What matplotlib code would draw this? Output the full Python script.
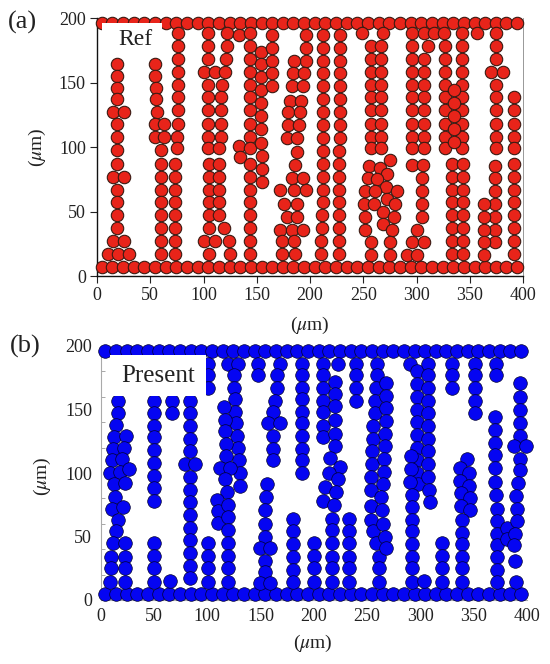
import matplotlib
matplotlib.use("Agg")
import matplotlib.pyplot as plt
from matplotlib.patches import Rectangle
import numpy as np

# ---------------- data (units: micrometres) ----------------
# wall rows (same x positions for both panels)
row_x = [4.5, 14.5, 24.5, 34.5, 44.5, 54.5, 64.5, 74.5, 84.5, 94.5,
         104.5, 114.5, 124.5, 134.5, 144.5, 154.5, 164.5, 174.5, 184.5, 194.5,
         204.5, 214.5, 224.5, 234.5, 244.5, 254.5, 264.5, 274.5, 284.5, 294.5,
         304.5, 314.5, 324.5, 334.5, 344.5, 354.5, 364.5, 374.5, 384.5, 394.5]
a_row_y = [7, 196]
b_row_y = [5, 196]

# ---- panel (a) "Ref" chains ----
a_chain_A = [(19,164),(19,155),(19,146),(19,137),(15,127),(25,127),(19,118),(19,108),(19,98),
             (19,87),(15,77),(25,77),(19,67),(19,57),(19,47),(19,37),(15,27),(25,27),(10,17),(20,17),(30,17)]
a_chain_B = [(54,164),(54,155),(55,146),(55,137),(56,127),(54,118),(63,118),(54,108),(63,108),(60,98),
             (60,87),(60,77),(60,67),(60,57),(60,47),(60,37),(60,27),(60,17)]
a_chain_C = [(76,188),(76,178),(76,168),(76,158),(76,148),(76,139),(76,129),(76,118),(75,108),(75,99),
             (73,87),(73,77),(73,67),(73,57),(73,47),(73,37),(73,27),(73,17)]
a_chain_D = [(104,188),(104,178),(104,168),(100,158),(111,158),(104,148),(104,139),(104,129),(104,118),
             (104,108),(104,99),(105,87),(105,77),(105,67),(105,57),(105,47),(105,37),(100,27),(111,27),(105,17)]
a_chain_E = [(122,188),(122,178),(121,168),(120,158),(117,148),(116,139),(116,129),(116,118),(116,108),
             (115,99),(115,87),(115,77),(115,67),(115,57),(115,47),(119,37),(124,27),(125,17)]
a_chain_F = [(133,187),(133,101),(134,92)]
a_chain_G = [(144,188),(144,178),(144,168),(144,158),(144,148),(144,139),(144,129),(144,118),(144,108),
             (144,99),(144,87),(144,77),(144,67),(144,57),(144,47),(144,37),(144,27),(144,17)]
a_chain_H = [(154,174),(154,164),(154,154),(154,144),(154,134),(154,124),(154,114),(154,103),(155,93),
             (155,83),(155,73)]
a_chain_I = [(164,187),(164,177),(164,167),(164,157),(164,147)]
a_chain_J = [(196,187),(196,177),(196,167),(185,167),(184,157),(194,157),(183,147),(193,147),(181,136),
             (192,136),(179,127),(191,127),(179,117),(190,117),(178,107),(188,107),(188,96),(186,86),
             (183,76),(193,76),(172,67),(185,67),(196,67),(176,56),(188,56),(178,46),(188,46),(172,36),
             (183,36),(193,36),(174,27),(185,27),(174,17),(186,17)]
a_chain_K = [(212,187),(212,177),(212,167),(212,157),(212,147),(212,137),(212,127),(212,117),(212,107),
             (212,97),(212,87),(212,77),(212,67),(212,57),(211,47),(211,37),(210,27),(210,17)]
a_chain_L = [(228,187),(228,177),(228,167),(228,157),(228,147),(228,137),(228,127),(228,117),(228,107),
             (227,97),(227,87),(227,77),(227,67),(227,57),(227,47),(227,37),(227,27),(227,17)]
a_chain_M = [(249,188),(269,188),
             (257,178),(257,168),(257,158),(257,148),(257,139),(257,129),(257,118),(257,108),(257,99),
             (267,178),(267,168),(267,158),(267,148),(267,139),(267,129),(267,118),(267,108),(267,99),
             (275,90),(255,85),(266,84),(272,79),(254,76),(263,75),(271,69),(252,66),(261,66),(272,60),
             (282,66),(251,56),(260,56),(269,50),(280,56),(252,46),(269,40),(279,46),(252,36),(277,36),
             (257,26),(275,26),(257,16),(275,16)]
a_chain_N = [(296,188),(296,178),(296,168),(296,158),(296,148),(296,139),(296,129),(296,118),(296,108),(296,99),
             (307,188),(311,178),(307,168),(307,158),(307,148),(307,139),(307,129),(307,118),(307,108),(307,99),
             (316,188),(296,86),(306,86),(305,76),(305,66),(305,56),(305,46),(300,36),(296,26),(307,26),
             (291,16),(300,16)]
a_chain_O = [(326,188),(327,178),(327,168),(327,158),(327,148),(327,139),(327,129),(327,118),(327,108),(327,99),
             (343,188),(343,178),(343,168),(343,158),(343,148),(343,139),(343,129),(343,118),(343,108),(343,99),
             (335,144),(335,134),(335,124),(335,114),(335,104),
             (333,87),(333,77),(333,67),(333,57),(333,47),(333,37),(333,27),(333,17),
             (344,87),(344,77),(344,67),(344,57),(344,47),(344,37),(344,27),(344,17)]
a_chain_P = [(357,188),(375,188),(375,178),(375,168),(370,158),(381,158),(375,148),(375,139),(375,129),
             (375,118),(375,108),(375,99),(374,85),(374,76),(374,66),(374,56),(374,46),(374,36),(374,26),
             (363,56),(363,46),(363,36),(363,26),(363,16)]
a_chain_Q = [(392,139),(392,129),(392,118),(392,108),(392,99),(392,87),(392,77),(392,67),(392,57),
             (392,47),(392,37),(392,27),(392,17)]

# ---- panel (b) "Present" chains ----
b_chain_1 = [(16,157),(16,147),(15,138),(13,128),(24,129),(12,119),(22,120),(11,110),(20,111),(9,100),
             (18,101),(27,103),(13,91),(23,92),(14,81),(11,72),(21,73),(16,63),(15,54),(12,45),(23,45),
             (10,34),(23,34),(10,25),(23,25),(9,14),(23,14)]
b_chain_2 = [(50,157),(50,147),(50,137),(50,128),(50,118),(50,108),(50,98),(50,88),(50,78),
             (50,45),(50,35),(50,25),(50,14)]
b_chain_3 = [(67,157),(67,147),(65,15)]
b_chain_4 = [(84,157),(84,147),(84,137),(84,127),(84,117),(79,107),(89,107),(84,97),(84,87),(84,77),
             (84,67),(84,57),(84,47),(84,37),(84,27),(84,17)]
b_chain_5 = [(101,186),(101,177),(101,167),(101,45),(101,35),(101,25),(101,14)]
b_chain_6 = [(120,186),(129,186),(125,177),(125,167),(126,158),(126,148),(127,139),(128,129),(129,120),
             (130,110),(131,100),(131,90),
             (116,152),(117,142),(117,133),(118,123),(118,113),(112,104),(121,104),(117,95),(119,85),
             (109,79),(110,70),(110,61),(120,75),(120,65),(120,55),(120,45),(120,35),(120,25),(120,14)]
b_chain_7 = [(148,186),(148,177),(168,186),(166,177),(166,167),(164,157),(162,148),(157,139),(168,139),
             (162,129),(162,119),(162,110)]
b_chain_8 = [(156,91),(155,81),(154,71),(154,60),(154,50),(150,41),(159,41),(154,31),(154,22),(150,13),(159,13)]
b_chain_9 = [(189,186),(189,177),(189,167),(189,158),(189,148),(189,139),(189,129),(189,119),(189,110),(189,100),
             (181,64),(181,54),(181,44),(181,34),(181,24),(181,14),(200,45),(200,35),(200,25),(200,14)]
b_chain_10 = [(223,186),(209,186),(209,177),(209,167),(209,157),(209,148),(209,137),(209,128),
              (220,172),(220,162),(220,153),(220,142),(220,131),(220,121),
              (215,112),(225,105),(214,100),(223,95),(211,89),(221,85),(209,78),(219,75),
              (217,64),(217,55),(217,45),(217,34),(217,25),(217,14)]
b_chain_11 = [(233,64),(233,54),(233,45),(233,34),(233,25),(233,14),
              (240,186),(240,177),(240,167),(240,157)]
b_chain_12 = [(259,186),(259,177),(258,167),(257,157),(257,147),(256,137),(256,127),(255,117),(255,107),
              (254,97),(254,87),(254,74),(254,63),(256,54),(258,45),(261,34),(261,25),(261,14),
              (268,171),(268,161),(268,151),(268,141),(267,131),(267,121),(266,111),(266,101),(265,91),
              (263,81),(264,71),(265,60),(267,50),(268,41)]
b_chain_13 = [(290,186),(297,180),(297,170),(297,160),(297,150),(297,140),(297,130),(297,120),(297,110),
              (297,100),(298,91),
              (307,186),(307,177),(307,167),(307,157),(307,147),(307,137),(307,127),(307,117),(307,107),
              (307,97),(308,87),(309,77),
              (291,113),(291,103),(290,93),(292,83),(292,73),(292,63),(292,54),(292,44),(292,34),(292,25),
              (292,14),(303,15)]
b_chain_14 = [(320,45),(320,35),(320,25),(320,14),(330,186),(330,177),(330,167),
              (351,186),(351,177),(351,167),(351,157),(351,147)]
b_chain_15 = [(344,111),(337,104),(346,100),(337,94),(346,90),(338,84),(347,80),(338,74),(347,71),
              (339,63),(339,53),(339,44),(339,34),(339,25),(339,14)]
b_chain_16 = [(371,186),(371,177),(370,144),(370,134),(370,124),(370,114),(370,104),(370,93),(371,83),
              (372,72),(372,62),(372,52),(372,43),(372,34),(372,24),(372,14),(381,57),(381,48)]
b_chain_17 = [(393,171),(393,160),(393,150),(393,139),(393,129),(388,121),(399,121),(393,111),(393,102),
              (392,92),(390,82),(391,72),(391,62),(389,52),(388,43),(389,31),(390,14)]

a_chains = [a_chain_A, a_chain_B, a_chain_C, a_chain_D, a_chain_E, a_chain_F, a_chain_G, a_chain_H,
            a_chain_I, a_chain_J, a_chain_K, a_chain_L, a_chain_M, a_chain_N, a_chain_O, a_chain_P, a_chain_Q]
b_chains = [b_chain_1, b_chain_2, b_chain_3, b_chain_4, b_chain_5, b_chain_6, b_chain_7, b_chain_8,
            b_chain_9, b_chain_10, b_chain_11, b_chain_12, b_chain_13, b_chain_14, b_chain_15,
            b_chain_16, b_chain_17]

tick_vals = [0, 50, 100, 150, 200, 250, 300, 350, 400]
ytick_vals = [0, 50, 100, 150, 200]

# ---------------- figure ----------------
plt.rcParams['font.family'] = ['Liberation Serif', 'DejaVu Serif']
plt.rcParams['mathtext.fontset'] = 'stix'

W, H = 550, 664
fig = plt.figure(figsize=(W / 100, H / 100), dpi=100)
ax_a = fig.add_axes([97 / W, 1 - 276 / H, 426 / W, 258 / H])
ax_b = fig.add_axes([100.5 / W, 1 - 600 / H, 426.5 / W, 254 / H])


def collect(chains, rows_y):
    pts = []
    for yv in rows_y:
        pts += [(x, yv) for x in row_x]
    for ch in chains:
        pts += list(ch)
    return np.array(pts, dtype=float)


pa = collect(a_chains, a_row_y)
pb = collect(b_chains, b_row_y)

ax_a.scatter(pa[:, 0], pa[:, 1], s=80, c='#e8241a', edgecolors='#3a1a12', linewidths=0.8,
             zorder=3, clip_on=False)
ax_b.scatter(pb[:, 0], pb[:, 1], s=96, c='#0505f2', edgecolors='#000030', linewidths=0.5,
             zorder=3, clip_on=False)

for ax in (ax_a, ax_b):
    ax.set_xlim(0, 400)
    ax.set_ylim(0, 200)
    ax.set_xticks(tick_vals)
    ax.set_yticks(ytick_vals)
    ax.set_facecolor('white')

# panel a styling
ax_a.tick_params(direction='out', length=5, width=0.8, labelsize=13, pad=3, colors='#222222')
for s in ('left', 'bottom'):
    ax_a.spines[s].set_color('#111111')
    ax_a.spines[s].set_linewidth(1.0)
ax_a.spines['right'].set_color('#888888')
ax_a.spines['right'].set_linewidth(0.6)
ax_a.spines['top'].set_visible(False)

# panel b styling
ax_b.tick_params(which='major', length=0, labelsize=13, pad=6, colors='#222222')
ax_b.set_yticks([20, 40, 60, 80, 100, 120, 140, 160, 180], minor=True)
ax_b.tick_params(which='minor', direction='in', length=3, width=0.6, color='#999999')
for s in ('left', 'bottom'):
    ax_b.spines[s].set_color('#aaaaaa')
    ax_b.spines[s].set_linewidth(0.8)
ax_b.spines['right'].set_visible(False)
ax_b.spines['top'].set_visible(False)

# label boxes
ax_a.add_patch(Rectangle((5, 173), 56, 23.5, facecolor='white', edgecolor='none', zorder=5, clip_on=False))
ax_a.text(36, 183, 'Ref', fontsize=17, ha='center', va='center', zorder=6, color='#222222')
ax_b.add_patch(Rectangle((9, 161), 89.5, 32, facecolor='white', edgecolor='none', zorder=5, clip_on=False))
ax_b.text(54, 176, 'Present', fontsize=18, ha='center', va='center', zorder=6, color='#222222')

# axis labels
fig.text(310 / W, 1 - 325 / H, r'($\mu$m)', fontsize=14, ha='center', va='center', color='#222222')
fig.text(37 / W, 1 - 147 / H, r'($\mu$m)', fontsize=14, ha='center', va='center', rotation=90, color='#222222')
fig.text(313 / W, 1 - 643 / H, r'($\mu$m)', fontsize=14, ha='center', va='center', color='#222222')
fig.text(42 / W, 1 - 476 / H, r'($\mu$m)', fontsize=14, ha='center', va='center', rotation=90, color='#222222')

# panel tags
fig.text(8 / W, 1 - 22 / H, '(a)', fontsize=19, ha='left', va='center', color='#222222')
fig.text(10 / W, 1 - 346 / H, '(b)', fontsize=19, ha='left', va='center', color='#222222')

fig.savefig('out.png', dpi=100, facecolor='white')
